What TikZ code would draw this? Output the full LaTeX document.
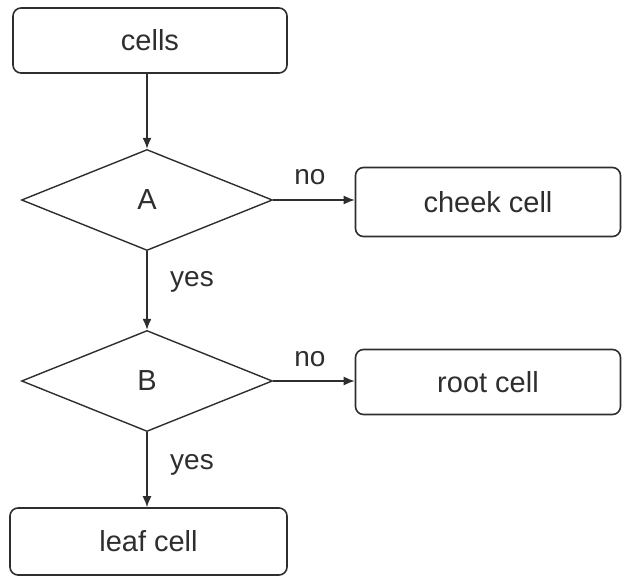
\documentclass[tikz,border=0pt]{standalone}
\usepackage{fontspec}
\setmainfont{Liberation Sans}
\usetikzlibrary{shapes.geometric,arrows.meta}
\definecolor{ink}{HTML}{2E2E2E}
\begin{document}
\begin{tikzpicture}[x=1pt,y=-1pt,
  box/.style={draw=ink,line width=1.6pt,rounded corners=8pt,inner sep=0pt,font=\fontsize{29}{32}\selectfont,text=ink},
  dec/.style={draw=ink,line width=1.4pt,shape=diamond,inner sep=0pt,minimum width=251pt,minimum height=101pt,font=\fontsize{29}{32}\selectfont,text=ink},
  lbl/.style={font=\fontsize{28}{30}\selectfont,text=ink,inner sep=0pt},
  arr/.style={draw=ink,line width=1.4pt,-{Latex[length=11pt,width=9pt]}}]
\useasboundingbox (0,0) rectangle (622,577);
\node[box,minimum width=274pt,minimum height=65pt] (cells) at (150,40.5) {cells};
\node[dec] (A) at (147,200) {A};
\node[box,minimum width=265pt,minimum height=69pt] (cheek) at (488,202) {cheek cell};
\node[dec] (B) at (147,381) {B};
\node[box,minimum width=265pt,minimum height=65pt] (root) at (488,382) {root cell};
\node[box,minimum width=277pt,minimum height=67pt] (leaf) at (148.5,541.5) {leaf cell};
\draw[arr] (A.north |- cells.south) -- (A.north);
\draw[arr] (A.east) -- (cheek.west |- A.east);
\draw[arr] (A.south) -- (B.north);
\draw[arr] (B.east) -- (root.west |- B.east);
\draw[arr] (B.south) -- (B.south |- leaf.north);
\node[lbl] (no1) at (310,177) {no};
\node[lbl] (yes1) at (192,282) {yes};
\node[lbl] (no2) at (310,359) {no};
\node[lbl] (yes2) at (192,465) {yes};
\end{tikzpicture}
\end{document}
